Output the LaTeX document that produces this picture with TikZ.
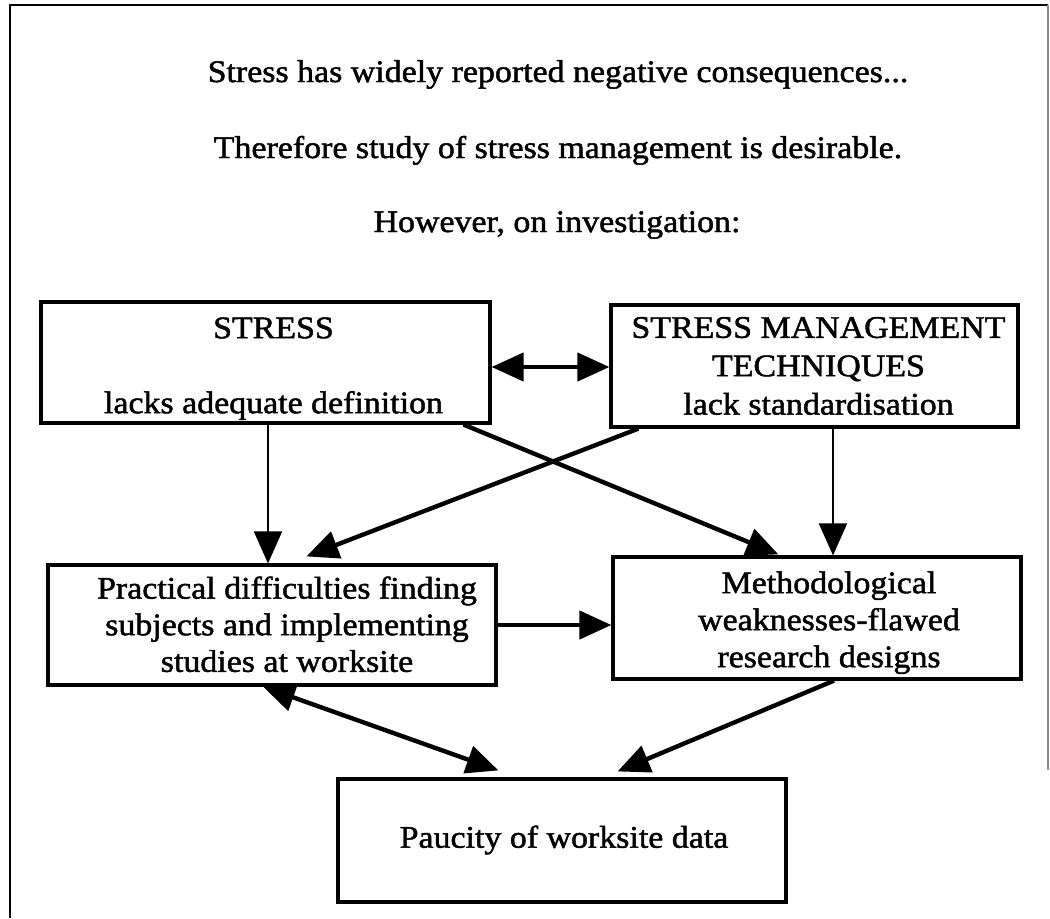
\documentclass[tikz,border=0pt]{standalone}
\usepackage{fontspec}
\setmainfont{Liberation Serif}[FakeStretch=1.08, FakeBold=1.5]
\usetikzlibrary{arrows.meta}

% Text block with horizontal and vertical offsets and custom line spacing
\newcommand{\boxlines}[3]{\hspace*{#1}\raisebox{#2}[\height][\depth]{\begin{tabular}{@{}c@{}}#3\end{tabular}}}

\tikzset{
  txt/.style={font=\fontsize{15.7}{18}\selectfont, inner sep=0pt},
  box/.style={draw, line width=1.6pt, rectangle, inner sep=0pt,
    font=\fontsize{15.7}{18}\selectfont},
  head/.style={-{Triangle[length=16pt,width=14pt]}},
  twohead/.style={{Triangle[length=16pt,width=14pt]}-{Triangle[length=16pt,width=14pt]}},
  thinarrow/.style={head, line width=1pt},
  thickarrow/.style={head, line width=2.2pt},
  thickboth/.style={twohead, line width=2.2pt},
}

\begin{document}
\begin{tikzpicture}[x=0.5pt,y=-0.5pt]
\useasboundingbox (0,0) rectangle (1050,918);
\fill[white] (0,0) rectangle (1050,918);

% outer frame
\coordinate (ftl) at (10,5);
\coordinate (fbl) at (10,918);
\coordinate (ftr) at (1048,5);
\coordinate (frb) at (1048,770);
\draw[line width=1pt] (fbl) -- (ftl) -- (ftr);
\draw[line width=0.6pt, black!45] (ftr) -- (frb);

% introductory lines
\node[txt, anchor=base] (l1) at (558,82) {Stress has widely reported negative consequences...};
\node[txt, anchor=base] (l2) at (558,158) {Therefore study of stress management is desirable.};
\node[txt, anchor=base] (l3) at (557,232) {However, on investigation:};

% boxes
\node[box, minimum width=224.5pt, minimum height=60.5pt] (stress) at (265.5,362.5)
  {\boxlines{8pt}{-3pt}{STRESS\\[19.5pt] lacks adequate definition}};
\node[box, minimum width=203.5pt, minimum height=61pt] (smt) at (814.5,366)
  {\boxlines{4pt}{-1.5pt}{STRESS MANAGEMENT\\[1.2pt] TECHNIQUES\\[1.2pt] lack standardisation}};
\node[box, minimum width=224pt, minimum height=60pt] (prac) at (272,625)
  {\boxlines{15pt}{-1.5pt}{Practical difficulties finding\\[0.3pt] subjects and implementing\\[0.3pt] studies at worksite}};
\node[box, minimum width=204pt, minimum height=61pt] (meth) at (817,618)
  {\boxlines{12pt}{-2.5pt}{Methodological\\[0.5pt] weaknesses-flawed\\[0.5pt] research designs}};
\node[box, minimum width=224pt, minimum height=61.5pt] (pauc) at (562,840.5)
  {\boxlines{2pt}{0pt}{Paucity of worksite data}};

% connectors
\draw[thinarrow] ([xshift=1.25pt]stress.south) -- ([xshift=-2pt]prac.north);
\draw[thinarrow] ([xshift=9.25pt]smt.south) -- ([xshift=8pt]meth.north);
\draw[thickarrow] ([xshift=-14pt]stress.south east) -- ([xshift=83.5pt,yshift=0.5pt]meth.north west);
\draw[thickarrow] ([xshift=14.5pt]smt.south west) -- ([xshift=130pt,yshift=3.5pt]prac.north west);
\draw[thickboth] ([yshift=-2.25pt]stress.east) -- ([yshift=-0.5pt]smt.west);
\draw[thickarrow] (prac.east) -- ([yshift=-3.5pt]meth.west);
\draw[thickboth] ([xshift=-4.5pt]prac.south) -- ([xshift=81pt,yshift=3.5pt]pauc.north west);
\draw[thickarrow] ([xshift=8.5pt]meth.south) -- ([xshift=-85pt,yshift=3pt]pauc.north east);
\end{tikzpicture}
\end{document}
